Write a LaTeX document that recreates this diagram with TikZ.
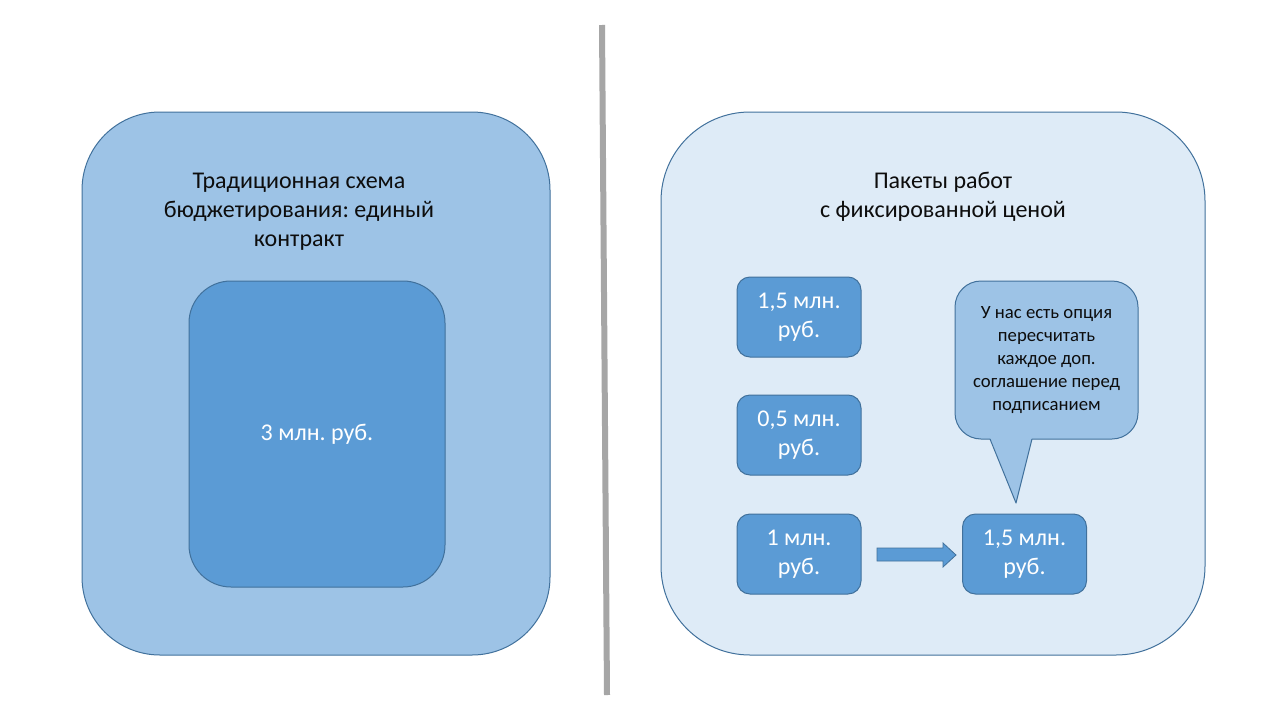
\documentclass[tikz,border=0pt]{standalone}
\usepackage{fontspec}
\setmainfont{Carlito}
\frenchspacing
\definecolor{lightfill}{HTML}{9DC3E6}
\definecolor{midfill}{HTML}{5B9BD5}
\definecolor{palefill}{HTML}{DEEBF7}
\definecolor{edgeblue}{HTML}{41719C}
\definecolor{sepgray}{HTML}{A6A6A6}
\definecolor{txtdark}{HTML}{0D0D0D}
\begin{document}
\begin{tikzpicture}[x=1pt,y=-1pt,
  panel/.style={draw=edgeblue, line width=1pt, inner sep=0pt},
  bigtext/.style={font=\fontsize{24}{29}\selectfont\frenchspacing, align=center, text=txtdark},
  pricebox/.style={panel, fill=midfill, rounded corners=13pt, minimum width=124pt, minimum height=80pt,
     font=\fontsize{24}{29}\selectfont\frenchspacing, align=center, text=white},
  calltext/.style={font=\fontsize{18.7}{23}\selectfont\frenchspacing, align=center, text=txtdark}
]
\useasboundingbox (0,0) rectangle (1280,720);
\fill[white] (0,0) rectangle (1280,720);
% separator
\draw[sepgray, line width=6pt] (602,25) -- (607,695);
% left panel
\node[panel, fill=lightfill, rounded corners=78pt, minimum width=468pt, minimum height=543pt] (left) at (316,383.5) {};
\node[bigtext] (lefttitle) at (299,212) {Традиционная схема\\бюджетирования: единый\\контракт};
\node[panel, fill=midfill, rounded corners=42pt, minimum width=256pt, minimum height=306pt,
  font=\fontsize{24}{29}\selectfont\frenchspacing, text=white] (total) at (317,434) {3 млн. руб.};
% right panel
\node[panel, fill=palefill, rounded corners=89pt, minimum width=544pt, minimum height=543pt] (right) at (933,383.5) {};
\node[bigtext] (righttitle) at (943,197) {Пакеты работ\\с фиксированной ценой};
\node[pricebox] (p1) at (799,317) {1,5 млн.\\руб.};
\node[pricebox] (p2) at (799,435) {0,5 млн.\\руб.};
\node[pricebox] (p3) at (799,554) {1 млн.\\руб.};
\node[pricebox] (p4) at (1024.5,554) {1,5 млн.\\руб.};
% block arrow
\draw[edgeblue, fill=midfill, line width=0.8pt]
  (877,548) -- (943,548) -- (943,543) -- (956,555) -- (943,567) -- (943,561) -- (877,561) -- cycle;
% callout
\node[panel, fill=lightfill, rounded corners=26pt, minimum width=183pt, minimum height=158pt] (call) at (1046.5,360) {};
\fill[lightfill] (990,438) -- (1016,503) -- (1032,438) -- cycle;
\draw[edgeblue, line width=1pt, line join=round] (990,439) -- (1016,503) -- (1032,439);
\node[calltext] (calltxt) at (1046.5,360) {У нас есть опция\\пересчитать\\каждое доп.\\соглашение перед\\подписанием};
\end{tikzpicture}
\end{document}
